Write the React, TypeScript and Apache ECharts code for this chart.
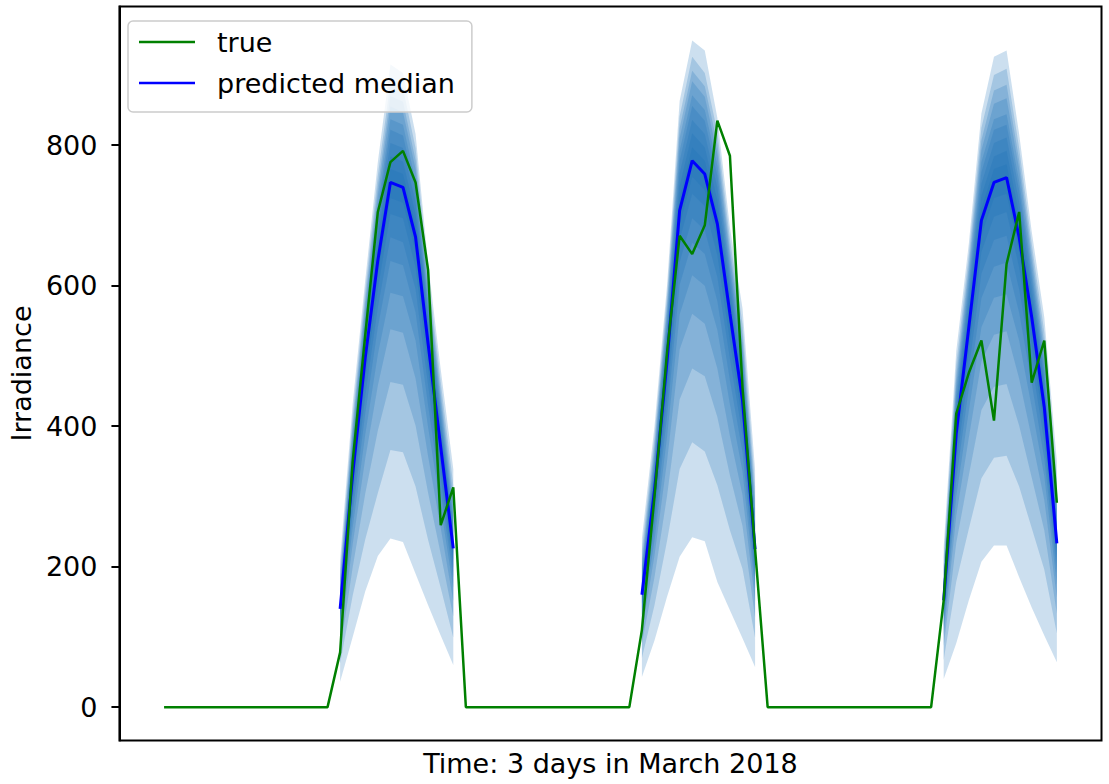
import React, { useEffect, useRef } from "react";
import * as echarts from "echarts";

// hour index 0..71 (3 days, hourly)
const hourCount = 72;
const dayStarts = [14, 38, 62];
const yTicks = [0, 200, 400, 600, 800];

const trueIrradiance = [
  0, 0, 0, 0, 0, 0, 0, 0, 0, 0, 0, 0, 0, 0,
  78, 350, 530, 705, 776, 792, 747, 622, 259, 313,
  0, 0, 0, 0, 0, 0, 0, 0, 0, 0, 0, 0, 0, 0,
  110, 300, 505, 671, 645, 686, 835, 785, 455, 225,
  0, 0, 0, 0, 0, 0, 0, 0, 0, 0, 0, 0, 0, 0,
  152, 418, 476, 522, 408, 631, 705, 462, 522, 291,
];

const predictedMedian = [140, 332, 498, 636, 747, 740, 669, 517, 370, 226, 160, 308, 493, 707, 778, 759, 688, 560, 437, 225, 152, 390, 541, 693, 747, 754, 669, 555, 427, 233];

const q05 = [36, 100, 165, 215, 240, 235, 190, 145, 102, 60, 43, 95, 157, 214, 242, 236, 178, 138, 98, 57, 40, 91, 152, 207, 230, 230, 185, 142, 102, 64];
const q10 = [62, 159, 239, 305, 366, 363, 314, 238, 170, 99, 70, 145, 237, 339, 377, 364, 316, 252, 197, 99, 67, 179, 254, 326, 355, 358, 314, 255, 196, 105];
const q15 = [80, 199, 304, 394, 463, 459, 401, 305, 218, 129, 91, 185, 301, 438, 482, 471, 413, 330, 258, 128, 87, 234, 330, 423, 456, 460, 401, 327, 252, 133];
const q20 = [94, 232, 354, 458, 538, 533, 468, 357, 255, 151, 107, 216, 350, 509, 560, 546, 482, 386, 302, 151, 102, 273, 384, 492, 530, 535, 468, 383, 295, 156];
const q25 = [105, 256, 388, 502, 590, 585, 522, 398, 285, 170, 120, 237, 385, 559, 615, 600, 537, 431, 336, 169, 114, 300, 422, 541, 583, 588, 522, 427, 329, 175];
const q30 = [115, 276, 418, 541, 635, 629, 562, 429, 307, 185, 131, 256, 414, 601, 661, 645, 578, 465, 363, 185, 125, 324, 454, 582, 627, 633, 562, 461, 354, 191];
const q35 = [123, 294, 443, 569, 669, 662, 595, 458, 327, 198, 140, 273, 439, 633, 696, 679, 612, 496, 387, 197, 133, 345, 481, 617, 665, 671, 595, 491, 378, 204];
const q40 = [130, 309, 466, 595, 702, 696, 626, 481, 344, 209, 148, 286, 461, 665, 731, 713, 643, 521, 406, 208, 141, 363, 506, 648, 698, 705, 626, 516, 397, 216];
const q45 = [135, 322, 483, 617, 725, 718, 649, 501, 359, 218, 154, 299, 478, 686, 755, 736, 667, 543, 424, 217, 147, 378, 525, 672, 725, 731, 649, 538, 414, 225];
const q55 = [146, 342, 510, 652, 766, 759, 686, 530, 381, 235, 166, 317, 505, 725, 797, 778, 705, 574, 450, 234, 158, 402, 555, 710, 766, 773, 686, 569, 440, 242];
const q60 = [151, 352, 523, 668, 784, 777, 702, 543, 392, 244, 173, 326, 518, 742, 817, 797, 722, 588, 463, 243, 164, 413, 568, 728, 784, 792, 702, 583, 453, 252];
const q65 = [157, 362, 535, 684, 803, 796, 719, 556, 403, 253, 179, 336, 530, 760, 836, 816, 740, 602, 476, 252, 170, 425, 582, 745, 803, 811, 719, 597, 465, 261];
const q70 = [162, 372, 548, 700, 822, 814, 736, 569, 414, 262, 186, 345, 542, 778, 856, 835, 757, 616, 489, 261, 176, 437, 595, 762, 822, 829, 736, 611, 478, 270];
const q75 = [169, 382, 558, 712, 837, 829, 749, 579, 426, 273, 194, 354, 552, 792, 871, 850, 771, 627, 503, 272, 184, 449, 606, 776, 837, 844, 749, 622, 491, 282];
const q80 = [176, 392, 570, 728, 855, 847, 766, 592, 437, 285, 202, 363, 564, 810, 891, 869, 788, 641, 516, 284, 192, 460, 619, 793, 859, 867, 766, 635, 504, 294];
const q85 = [185, 402, 580, 741, 870, 862, 779, 602, 448, 298, 211, 373, 574, 824, 906, 884, 802, 652, 529, 297, 201, 472, 630, 807, 878, 886, 779, 647, 517, 308];
const q90 = [196, 415, 593, 757, 889, 881, 796, 615, 463, 316, 224, 385, 587, 841, 926, 903, 819, 666, 546, 315, 213, 488, 644, 825, 900, 909, 796, 660, 534, 326];
const q95 = [210, 432, 608, 776, 915, 903, 816, 631, 481, 339, 240, 400, 601, 863, 949, 935, 839, 683, 568, 338, 228, 507, 660, 845, 926, 935, 816, 677, 555, 350];

const bands: [number[], number[]][] = [
  [q05, q95],
  [q10, q90],
  [q15, q85],
  [q20, q80],
  [q25, q75],
  [q30, q70],
  [q35, q65],
  [q40, q60],
  [q45, q55],
];

const FONT = "DejaVu Sans";
const FS = 27;
const BAND_FILL = "rgba(25,110,182,0.22)";

export default function App() {
  const ref = useRef<HTMLDivElement>(null);

  useEffect(() => {
    document.body.style.margin = "0";
    if (!ref.current) return;
    const chart = echarts.init(ref.current, null, { renderer: "svg" });

    const trueData = trueIrradiance.map((v, i) => [i, v]);
    const medianData: any[] = [];
    dayStarts.forEach((s, d) => {
      for (let i = 0; i < 10; i++) medianData.push([s + i, predictedMedian[d * 10 + i]]);
      medianData.push([s + 10, null]);
    });

    const bandSeries = bands.map(([lo, hi]) => ({
      type: "custom",
      silent: true,
      z: 1,
      data: dayStarts.map((s, d) => [s, d]),
      encode: { x: 0, y: 1 },
      renderItem: (params: any, api: any) => {
        const d = params.dataIndex;
        const s = dayStarts[d];
        const pts: number[][] = [];
        for (let i = 0; i < 10; i++) pts.push(api.coord([s + i, hi[d * 10 + i]]));
        for (let i = 9; i >= 0; i--) pts.push(api.coord([s + i, lo[d * 10 + i]]));
        return {
          type: "polygon",
          shape: { points: pts },
          style: { fill: BAND_FILL, stroke: "none" },
        };
      },
    }));

    chart.setOption({
      animation: false,
      backgroundColor: "#ffffff",
      textStyle: { fontFamily: FONT },
      grid: {
        left: 114.5,
        right: 7.5,
        top: 6.5,
        bottom: 43.5,
        show: true,
        borderColor: "#000",
        borderWidth: 2,
        backgroundColor: "transparent",
      },
      legend: {
        data: ["true", "predicted median"],
        orient: "vertical",
        left: 128,
        top: 21,
        padding: [6, 17, 14, 11],
        icon: "rect",
        itemWidth: 56,
        itemHeight: 2.5,
        itemGap: 11,
        backgroundColor: "rgba(255,255,255,0.8)",
        borderColor: "#cccccc",
        borderWidth: 1.5,
        borderRadius: 5,
        textStyle: {
          fontFamily: FONT,
          fontSize: FS,
          color: "#000",
          lineHeight: 30,
          padding: [0, 0, 0, 17],
        },
      },
      xAxis: {
        type: "value",
        min: -3.55,
        max: hourCount - 1 + 3.55,
        name: "Time: 3 days in March 2018",
        nameLocation: "middle",
        nameGap: 9,
        nameTextStyle: { fontFamily: FONT, fontSize: FS, color: "#000", verticalAlign: "top" },
        axisLine: { show: false, onZero: false },
        axisTick: { show: false },
        axisLabel: { show: false },
        splitLine: { show: false },
      },
      yAxis: {
        type: "value",
        min: -47.5,
        max: 997.5,
        name: "Irradiance",
        nameLocation: "middle",
        nameRotate: 90,
        nameGap: 81,
        nameTextStyle: { fontFamily: FONT, fontSize: FS, color: "#000" },
        axisLine: { show: true, onZero: false, lineStyle: { color: "#000", width: 2 } },
        axisTick: {
          show: true,
          customValues: yTicks,
          length: 8,
          lineStyle: { color: "#000", width: 2 },
        },
        axisLabel: {
          show: true,
          customValues: yTicks,
          margin: 22,
          fontFamily: FONT,
          fontSize: FS,
          color: "#000",
        },
        splitLine: { show: false },
      },
      series: [
        ...bandSeries,
        {
          name: "predicted median",
          type: "line",
          data: medianData,
          symbol: "none",
          connectNulls: false,
          z: 3,
          lineStyle: { color: "#0000ff", width: 3 },
          itemStyle: { color: "#0000ff" },
        },
        {
          name: "true",
          type: "line",
          data: trueData,
          symbol: "none",
          z: 4,
          lineStyle: { color: "#008000", width: 2.5 },
          itemStyle: { color: "#008000" },
        },
      ],
    } as any);

    return () => chart.dispose();
  }, []);

  return <div ref={ref} style={{ width: 1109, height: 784 }} />;
}
